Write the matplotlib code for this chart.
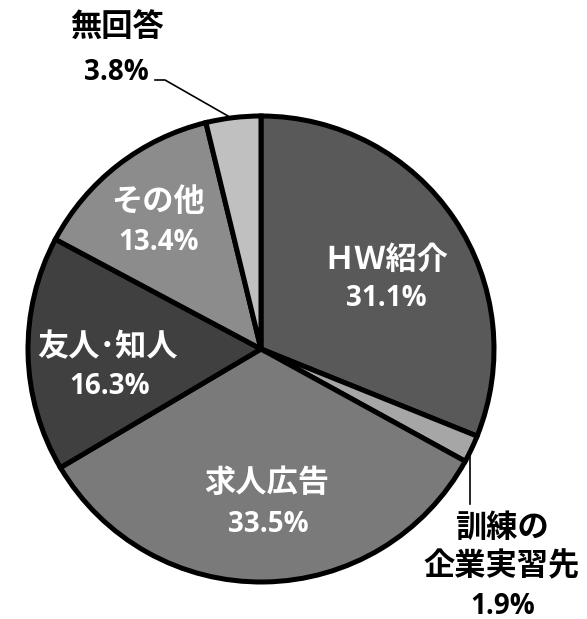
import matplotlib.pyplot as plt

plt.rcParams['font.family'] = ['Noto Sans CJK JP', 'DejaVu Sans']

# Survey shares, clockwise from 12 o'clock
categories = ['ＨＷ紹介', '訓練の\n企業実習先', '求人広告', '友人･知人', 'その他', '無回答']
values = [31.1, 1.9, 33.5, 16.3, 13.4, 3.8]
colors = ['#595959', '#a6a6a6', '#7a7a7a', '#404040', '#8c8c8c', '#c0c0c0']

# Label anchors (pixels from top-left): category line centre, percent line centre
label_pos = [((386, 260), (386, 298)),
             ((502, 547), (503, 606)),
             ((267, 483), (268, 525)),
             ((108, 347), (110, 387)),
             ((158, 202), (159, 243)),
             ((117, 28), (116, 72))]
text_colors = ['white', 'black', 'white', 'white', 'white', 'black']

W, H = 587, 619
fig = plt.figure(figsize=(W / 100, H / 100), dpi=100)
ax = fig.add_axes([0, 0, 1, 1])

cx, cy, R = 261, H - 349, 233
wedges, _ = ax.pie(values, colors=colors, startangle=90, counterclock=False,
                   center=(cx, cy), radius=R, frame=True,
                   wedgeprops=dict(edgecolor='black', linewidth=3.6))
ax.set_xlim(0, W)
ax.set_ylim(0, H)
ax.axis('off')

for cat, val, ((x1, y1), (x2, y2)), tc in zip(categories, values, label_pos, text_colors):
    ax.text(x1, H - y1, cat, ha='center', va='center', color=tc,
            fontsize=22.5, fontweight='bold', linespacing=1.25,
            family=['Noto Sans CJK JP', 'DejaVu Sans'])
    ax.text(x2, H - y2, f'{val:.1f}%', ha='center', va='center', color=tc,
            fontsize=20, fontweight='bold', family=['Open Sans', 'DejaVu Sans'])

# Leader lines for the two small slices
ax.plot([228, 165, 155], [H - 116, H - 80, H - 80], color='black', lw=1.2)
ax.plot([470, 470], [H - 455, H - 504], color='black', lw=1.2)

fig.savefig('out.png', dpi=100, facecolor='white')
